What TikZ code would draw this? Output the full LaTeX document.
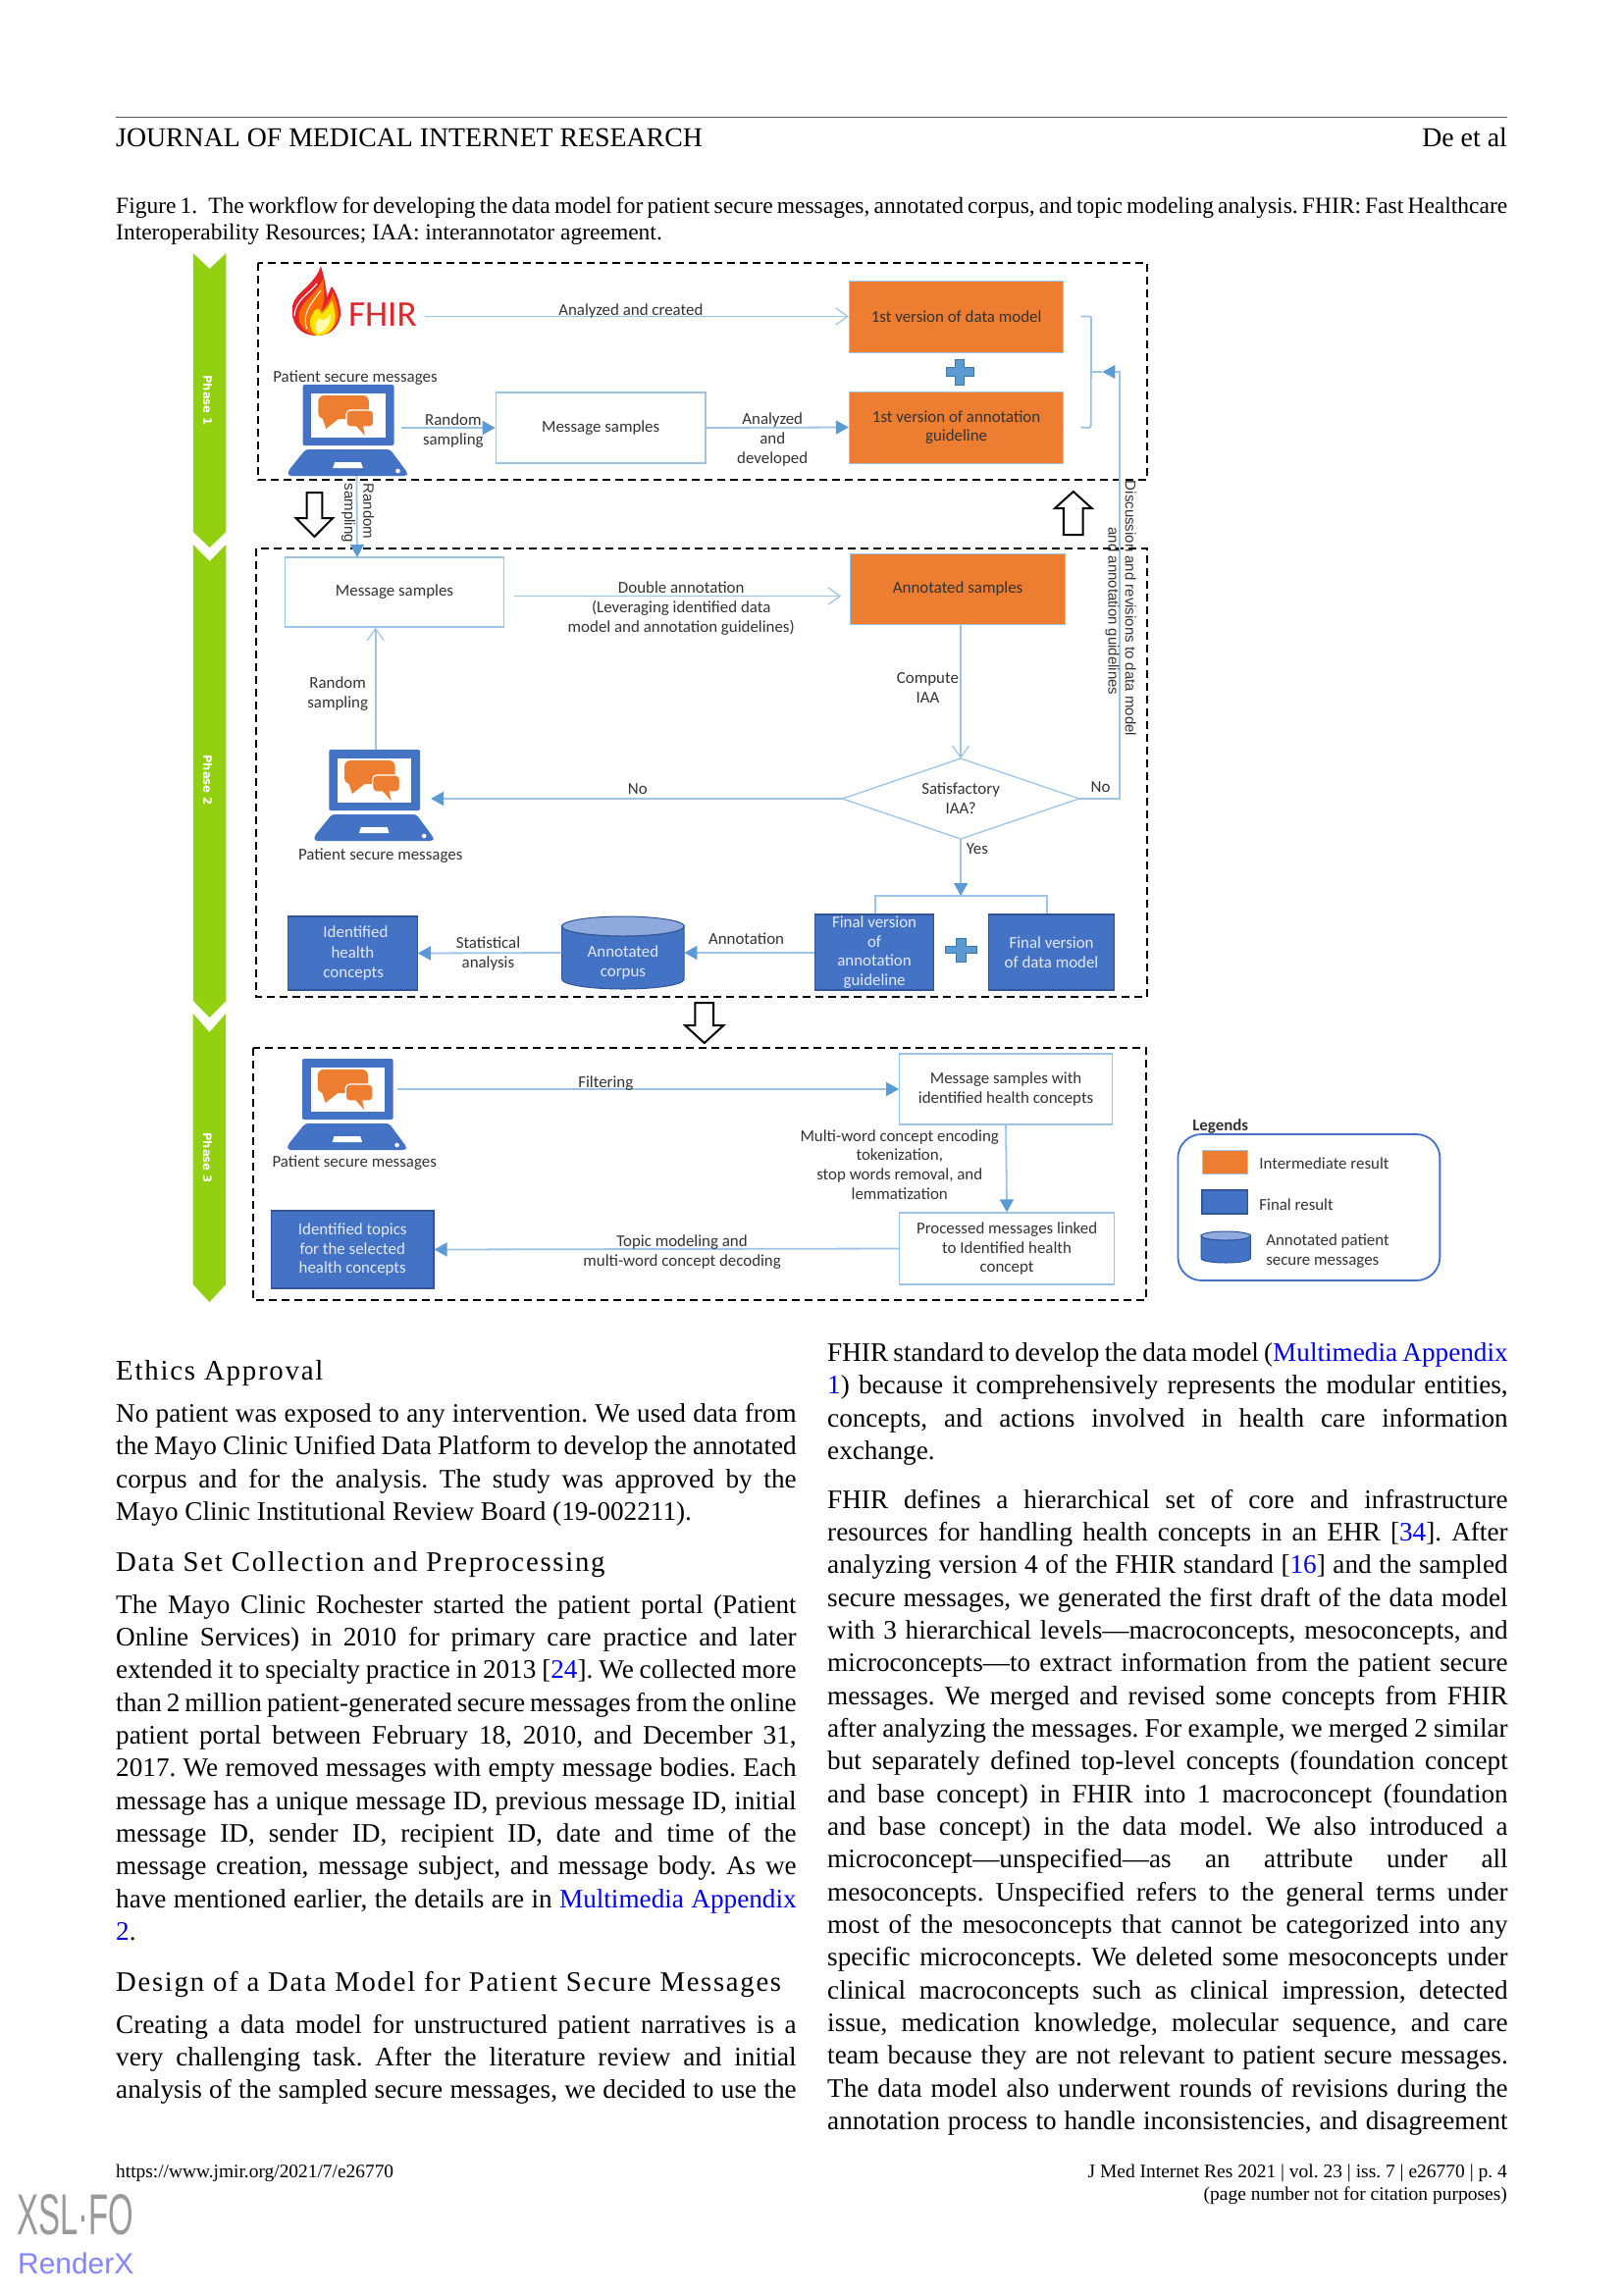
\documentclass[tikz,border=0pt]{standalone}
\usepackage{fontspec}
\usepackage{graphicx}
\setmainfont{Liberation Serif}
\newfontfamily\carl{Carlito}
\newfontfamily\hsans{Liberation Sans}
\newfontfamily\djb{DejaVu Sans}
\newfontfamily\headf[LetterSpace=6]{Liberation Serif}
\usetikzlibrary{arrows.meta,calc}
\definecolor{grn}{HTML}{92D010}
\definecolor{org}{HTML}{ED7D31}
\definecolor{blu}{HTML}{4472C4}
\definecolor{bluD}{HTML}{2F5597}
\definecolor{ltb}{HTML}{9DC3E6}
\definecolor{medb}{HTML}{5B9BD5}
\definecolor{lnk}{HTML}{0000EE}
\definecolor{tx}{HTML}{333333}
\definecolor{fred}{HTML}{E0262C}
\newlength\colw
\newcommand\jl[1]{\hbox to \colw{#1}}
\newcommand\jn[1]{\hbox{#1}}
\newcommand\lk[1]{\textcolor{lnk}{#1}}
\def\xf{1}
\frenchspacing
% block of text: name, x, first baseline, width, lines
\newcommand\txtblock[5]{\node[body,anchor=base west] (#1) at (#2,#3) {\colw=#4pt\vtop{\hsize=\colw\baselineskip=33.35pt\lineskiplimit=-20pt #5}};}
% box: name,x1,y1,x2,y2,style,text
\newcommand\bx[7]{%
  \pgfmathsetmacro\bxw{(#4-#2)*\xf}\pgfmathsetmacro\bxh{#5-#3}%
  \node[#6,minimum width=\bxw pt,minimum height=\bxh pt] (#1) at ({(#2+#4)/2},{(#3+#5)/2}) {#7};}
% laptop: name, x, y of screen's top left
\newcommand\laptop[3]{%
  \node[minimum width=93pt,minimum height=93pt,inner sep=0pt] (#1) at (#2+47,#3+46.5) {};
  \begin{scope}[shift={(#2,#3)}]
    \fill[blu,rounded corners=2pt] (0,0) rectangle (94,62);
    \fill[white] (9,9) rectangle (85,54);
    \fill[org,rounded corners=6pt] (16,11) rectangle (68,35);
    \fill[org] (20,33) -- (24,45) -- (38,34) -- cycle;
    \fill[org,draw=white,line width=1.2pt,rounded corners=4pt] (45,26) rectangle (73,43);
    \fill[org] (55,42) -- (64,52) -- (62,42) -- cycle;
    \fill[blu,rounded corners=3pt] (3,66) -- (90,66) -- (108,90) -- (107,93) -- (-15,93) -- (-15,88) -- cycle;
    \fill[white] (33,79) -- (60,79) -- (62,85) -- (31,85) -- cycle;
    \fill[white] (98,88) circle (2.3pt);
  \end{scope}}
% cylinder: name, x1,y1,x2,y2, ellipse half height, text
\newcommand\cyl[7]{%
  \bx{#1}{#2}{#3}{#4}{#5}{inner sep=0pt,align=center}{}
  \pgfmathsetmacro\cxr{(#4-#2)/2*\xf}\pgfmathsetmacro\cxc{(#2+#4)/2}%
  \fill[blu,draw=bluD,line width=1pt] (#2,#3+#6) arc[start angle=180,end angle=360,x radius=\cxr pt,y radius=#6 pt] -- (#4,#5-#6) arc[start angle=0,end angle=-180,x radius=\cxr pt,y radius=#6 pt] -- cycle;
  \fill[blu!60!white,draw=bluD,line width=1pt] (\cxc,#3+#6) ellipse[x radius=\cxr pt,y radius=#6 pt];
  \node[lblw] at (\cxc,{(#3+#5)/2+#6}) {#7};}
% plus: name, centre, half width, half height
\newcommand\plus[5]{%
  \node[inner sep=0pt,minimum width=#4*2pt,minimum height=#5*2pt] (#1) at (#2,#3) {};
  \begin{scope}[shift={(#2,#3)}]
   \filldraw[fill=medb,draw=medb!75!black,line width=.8pt] (-#4*.32,-#5) -- (#4*.32,-#5) -- (#4*.32,-#5*.32) -- (#4,-#5*.32) -- (#4,#5*.32) -- (#4*.32,#5*.32) -- (#4*.32,#5) -- (-#4*.32,#5) -- (-#4*.32,#5*.32) -- (-#4,#5*.32) -- (-#4,-#5*.32) -- (-#4*.32,-#5*.32) -- cycle;
  \end{scope}}
% hollow arrow: tip x, shaft half w, head half w, start y, head-base y, tip y
\newcommand\hollow[6]{%
  \filldraw[fill=white,draw=black,line width=2pt,line join=miter] (#1-#2,#4) -- (#1+#2,#4) -- (#1+#2,#5) -- (#1+#3,#5) -- (#1,#6) -- (#1-#3,#5) -- (#1-#2,#5) -- cycle;}
% green band: y corner top, notch, side end, tip
\newcommand\band[4]{\fill[grn] (197,#1) -- (214,#2) -- (231,#1) -- (231,#3) -- (214,#4) -- (197,#3) -- cycle;}
\tikzset{
  x=1pt,y=-1pt,
  body/.style={inner sep=0pt,font=\fontsize{27.2}{33.3}\selectfont},
  lbl/.style={inner sep=0pt,align=center,text=tx,font=\carl\fontsize{16.9}{19.7}\selectfont},
  lblw/.style={lbl,text=white!85!blu},
  orgbox/.style={fill=org,draw=ltb,line width=1pt,lbl},
  whbox/.style={fill=white,draw=ltb,line width=1.3pt,lbl},
  blubox/.style={fill=blu,draw=bluD,line width=1.2pt,lblw},
  dashbox/.style={draw=black,line width=2pt,dash pattern=on 8pt off 5pt},
  conn/.style={draw=ltb,line width=1.8pt},
  opena/.style={conn,-{Straight Barb[length=12pt,width=17pt,line width=1.2pt]}},
  filla/.style={conn,-{Triangle[length=13pt,width=14pt,color=medb,fill=medb]}},
  phase/.style={inner sep=0pt,text=white,rotate=-90,font=\djb\bfseries\fontsize{11.6}{13}\selectfont},
  rot/.style={lbl,rotate=-90,font=\hsans\fontsize{15}{17}\selectfont},
}
\begin{document}
\begin{tikzpicture}
\useasboundingbox (0,0) rectangle (1654,2339);
\fill[white] (0,0) rectangle (1654,2339);
% ---- page header
\draw[black!65,line width=1pt] (118,119.5) -- (1536,119.5);
\node[inner sep=0pt,anchor=base west,font=\fontsize{27.8}{33}\selectfont] (hdl) at (118,149.5) {JOURNAL OF MEDICAL INTERNET RESEARCH};
\node[inner sep=0pt,anchor=base east,font=\fontsize{27.8}{33}\selectfont] (hdr) at (1536,149.5) {De et al};
\node[inner sep=0pt,anchor=base west,font=\fontsize{23.5}{27.5}\selectfont] (cap) at (118,217) {\colw=1418pt\vtop{\hsize=\colw\baselineskip=27.5pt
 \jl{Figure 1.\kern 11pt The workflow for developing the data model for patient secure messages, annotated corpus, and topic modeling analysis. FHIR: Fast Healthcare}
 \jn{Interoperability Resources; IAA: interannotator agreement.}}};
% ---- phases 1 and 2
\begin{scope}[x=0.989pt,shift={(1.98,0)}]
\def\xf{0.989}
\band{258}{274}{542}{558}
\band{555}{572}{1020}{1037}
\node[phase] (p1) at (212,408) {Phase 1};
\node[phase] (p2) at (212,795) {Phase 2};
\draw[dashbox] (264,268) rectangle (1180,489);
\draw[dashbox] (262,559) rectangle (1180,1016);
\end{scope}
% ---- FHIR logo
\fill[fred] (323,342) .. controls (305,342) and (296,330) .. (298,312) .. controls (300,298) and (320,292) .. (327,271) .. controls (331,285) and (333,296) .. (333,303) .. controls (336,297) and (337,293) .. (338,292) .. controls (345,300) and (348,318) .. (347,322) .. controls (344,336) and (335,342) .. (323,342) -- cycle;
\draw[white,line width=1.1pt] (300,322) .. controls (301,305) and (315,300) .. (323,289);
\fill[orange!85!red] (323,342) .. controls (311,340) and (302,330) .. (305,318) .. controls (309,305) and (325,298) .. (329,284) .. controls (332,298) and (330,310) .. (327,318) .. controls (333,312) and (337,306) .. (339,298) .. controls (345,312) and (346,322) .. (344,326) .. controls (340,337) and (332,342) .. (323,342) -- cycle;
\draw[white,line width=1pt] (313,335) .. controls (306,320) and (320,306) .. (327,296);
\fill[yellow!85!orange] (323,342) .. controls (315,338) and (314,326) .. (319,319) .. controls (322,314) and (326,312) .. (327,320) .. controls (330,318) and (336,312) .. (338,306) .. controls (342,316) and (343,326) .. (339,333) .. controls (335,340) and (330,342) .. (323,342) -- cycle;
\fill[yellow!35!white] (324,340) .. controls (320,334) and (322,326) .. (326,324) .. controls (328,328) and (333,326) .. (337,320) .. controls (338,330) and (332,338) .. (324,340) -- cycle;
\node[inner sep=0pt,text=fred,font=\carl\fontsize{37}{40}\selectfont,anchor=west] (fhir) at (355,321) {FHIR};
\begin{scope}[x=0.989pt,shift={(1.98,0)}]
\def\xf{0.989}
% ---- phase 1
\bx{dm}{873}{286}{1094}{359}{orgbox}{1st version of data model}
\bx{ag}{873}{399}{1094}{472}{orgbox}{1st version of annotation\\guideline}
\plus{pl1}{987}{379}{14}{13}
\laptop{lapA}{310}{392}
\bx{ms1}{509}{400}{725}{472}{whbox}{\raisebox{-2pt}{Message samples}}
\node[lbl] (tp1) at (364,385.5) {Patient secure messages};
\draw[opena] (fhir.east |- dm.west) ++(8,0) -- (dm.west);
\node[lbl] (la1) at (648,317) {Analyzed and created};
\draw[filla] (lapA.east |- ms1.west) ++(7,0) -- (ms1.west);
\node[lbl] (la2) at (465,439) {Random\\sampling};
\draw[filla] (ms1.east) -- (ag.west);
\node[lbl] (la3) at (794,448) {Analyzed\\and\\developed};
% brace and return line
\coordinate (brt) at ($(dm.east)+(17,0)$);
\coordinate (brb) at ($(ag.east)+(17,0)$);
\coordinate (brm) at (1122,379);
\draw[conn,rounded corners=2pt] (brt) -- ++(11,0) -- (1122,436) -- (brb);
\draw[conn] (brm) -- ++(12,0);
% ---- phase 1 to 2
\hollow{322}{8}{19}{502}{528}{547}
\hollow{1104}{10}{19}{545}{518}{501}
% ---- phase 2
\bx{ms2}{292}{568}{517}{639}{whbox}{Message samples}
\bx{an}{874}{564}{1096}{636}{orgbox}{Annotated samples}
\laptop{lapB}{337}{764}
\node[lbl] (tp2) at (390,872) {Patient secure messages};
\coordinate (dn) at (988,773); \coordinate (ds) at (988,855); \coordinate (dw) at (866,814); \coordinate (de) at (1110,814);
\draw[ltb,line width=1.3pt,fill=white] (dn) -- (de) -- (ds) -- (dw) -- cycle;
\node[lbl] (dia) at (988,814) {Satisfactory\\IAA?};
\draw[filla] (lapA.south -| ms2.north) ++(-39,0) -- (366,568);
\node[rot] (rs1) at (378,521) {Random};
\node[rot] (rs2) at (357,523) {sampling};
\draw[opena] (ms2.east) ++(10,4) -- ++(337,0);
\node[lbl] (la4) at (700,620) {Double annotation\\(Leveraging identified data\\model and annotation guidelines)};
\draw[opena] (an.south -| dn) -- (dn);
\node[lbl] (la5) at (954,701) {Compute\\IAA};
\draw[filla] (dw) -- (442,814);
\node[lbl] (la6) at (655,804) {No};
\coordinate (rettip) at (1134,379);
\draw[conn] (de) -- (1152,814) -- (1152,379) -- (1146,379);
\fill[medb] (rettip) -- (1147,372) -- (1147,386) -- cycle;
\node[lbl] (la7) at (1132,802) {No};
\node[lbl] (la8) at (1005,865) {Yes};
\node[rot] (dsc1) at (1163,620) {Discussion and revisions to data model};
\node[rot] (dsc2) at (1144,623) {and annotation guidelines};
\bx{fa}{838}{932}{960}{1009}{blubox}{Final version\\of\\annotation\\guideline}
\bx{fd}{1017}{932}{1146}{1009}{blubox}{Final version\\of data model}
\plus{pl2}{988}{968}{16}{12}
\draw[filla] (ds) -- (988,913);
\draw[conn] (fa.north -| 900,0) -- (900,913) -- (1077,913) -- (fd.north -| 1077,0);
\cyl{cor}{577}{934}{703}{1008}{10}{Annotated\\corpus}
\bx{ihc}{295}{934}{428}{1009}{blubox}{\raisebox{-1.5pt}{\parbox{60pt}{\centering\baselineskip=20.3pt Identified\\health\\concepts}}}
\draw[filla] (fa.west) ++(0,0.5) -- (cor.east);
\node[lbl] (la9) at (767,957) {Annotation};
\draw[filla] (cor.west) -- (ihc.east);
\node[lbl] (la10) at (501,972) {Statistical\\analysis};
\draw[opena] (lapB.north -| 385,0) -- (ms2.south -| 385,0);
\node[lbl] (la11) at (346,707) {Random\\sampling};
\end{scope}
% ---- phase 3 and legend
\begin{scope}[x=0.985pt,shift={(2.7,0)}]
\def\xf{0.985}
\band{1033}{1052}{1309}{1327}
\node[phase] (p3) at (212,1180) {Phase 3};
\draw[dashbox] (259,1068) rectangle (1183,1325);
\hollow{726}{9.5}{20}{1022}{1045}{1063}
\laptop{lapC}{310}{1079}
\node[lbl] (tp3b) at (364,1185.5) {Patient secure messages};
\bx{msh}{928}{1074}{1148}{1146}{whbox}{Message samples with\\identified health concepts}
\bx{pm}{928}{1236}{1150}{1309}{whbox}{Processed messages linked\\to Identified health\\concept}
\bx{itp}{278}{1234}{446}{1313}{blubox}{Identified topics\\for the selected\\health concepts}
\draw[filla] (lapC.east |- msh.west) ++(4,0) -- (msh.west);
\node[lbl] (la12) at (624,1104) {Filtering};
\draw[filla] (msh.south) -- (pm.north);
\node[lbl] (la13) at (928,1187) {Multi-word concept encoding\\tokenization,\\stop words removal, and\\lemmatization};
\draw[filla] (pm.west) -- (itp.east);
\node[lbl] (la14) at (703,1276) {Topic modeling and\\multi-word concept decoding};
% ---- legend
\node[lbl,font=\carl\bfseries\fontsize{16.9}{19}\selectfont] (leg) at (1260,1148) {Legends};
\draw[blu,line width=1.8pt,rounded corners=24pt] (1216,1156) rectangle (1487,1305);
\bx{s1}{1241}{1172}{1288}{1196}{orgbox}{}
\bx{s2}{1241}{1213}{1288}{1237}{blubox}{}
\cyl{s3}{1240}{1255}{1291}{1287}{4.5}{}
\node[lbl,anchor=west] (t1) at (1300,1186) {Intermediate result};
\node[lbl,anchor=west] (t2) at (1300,1228) {Final result};
\node[lbl,anchor=west,align=left] (t3) at (1307,1275) {Annotated patient\\secure messages};
\end{scope}
% ---- body text
\node[inner sep=0pt,anchor=base west,font=\headf\fontsize{28.9}{33}\selectfont] (h1) at (118,1406.5) {Ethics Approval};
\txtblock{a1}{118}{1449.5}{693.5}{
\jl{No patient was exposed to any intervention. We used data from}
\jl{the Mayo Clinic Unified Data Platform to develop the annotated}
\jl{corpus and for the analysis. The study was approved by the}
\jn{Mayo Clinic Institutional Review Board (19-002211).}}
\node[inner sep=0pt,anchor=base west,font=\headf\fontsize{28.8}{33}\selectfont] (h2) at (118,1601) {Data Set Collection and Preprocessing};
\txtblock{a2}{118}{1644}{693.5}{
\jl{The Mayo Clinic Rochester started the patient portal (Patient}
\jl{Online Services) in 2010 for primary care practice and later}
\jl{extended it to specialty practice in 2013 [\lk{24}]. We collected more}
\jl{than 2 million patient-generated secure messages from the online}
\jl{patient portal between February 18, 2010, and December 31,}
\jl{2017. We removed messages with empty message bodies. Each}
\jl{message has a unique message ID, previous message ID, initial}
\jl{message ID, sender ID, recipient ID, date and time of the}
\jl{message creation, message subject, and message body. As we}
\jl{have mentioned earlier, the details are in \lk{Multimedia Appendix}}
\jn{\lk{2}.}}
\node[inner sep=0pt,anchor=base west,font=\headf\fontsize{28.7}{33}\selectfont] (h3) at (118,2029) {Design of a Data Model for Patient Secure Messages};
\txtblock{a3}{118}{2072}{693.5}{
\jl{Creating a data model for unstructured patient narratives is a}
\jl{very challenging task. After the literature review and initial}
\jl{analysis of the sampled secure messages, we decided to use the}}
\txtblock{b1}{843}{1387.5}{693.5}{
\jl{FHIR standard to develop the data model (\lk{Multimedia Appendix}}
\jl{\lk{1}) because it comprehensively represents the modular entities,}
\jl{concepts, and actions involved in health care information}
\jn{exchange.}}
\txtblock{b2}{843}{1537}{693.5}{
\jl{FHIR defines a hierarchical set of core and infrastructure}
\jl{resources for handling health concepts in an EHR [\lk{34}]. After}
\jl{analyzing version 4 of the FHIR standard [\lk{16}] and the sampled}
\jl{secure messages, we generated the first draft of the data model}
\jl{with 3 hierarchical levels---macroconcepts, mesoconcepts, and}
\jl{microconcepts---to extract information from the patient secure}
\jl{messages. We merged and revised some concepts from FHIR}
\jl{after analyzing the messages. For example, we merged 2 similar}
\jl{but separately defined top-level concepts (foundation concept}
\jl{and base concept) in FHIR into 1 macroconcept (foundation}
\jl{and base concept) in the data model. We also introduced a}
\jl{microconcept---unspecified---as an attribute under all}
\jl{mesoconcepts. Unspecified refers to the general terms under}
\jl{most of the mesoconcepts that cannot be categorized into any}
\jl{specific microconcepts. We deleted some mesoconcepts under}
\jl{clinical macroconcepts such as clinical impression, detected}
\jl{issue, medication knowledge, molecular sequence, and care}
\jl{team because they are not relevant to patient secure messages.}
\jl{The data model also underwent rounds of revisions during the}
\jl{annotation process to handle inconsistencies, and disagreement}}
% ---- footer
\node[inner sep=0pt,anchor=base west,font=\fontsize{19.4}{24}\selectfont] (f1) at (118,2219) {https://www.jmir.org/2021/7/e26770};
\node[inner sep=0pt,anchor=base east,font=\fontsize{19.5}{24}\selectfont] (f2) at (1536,2219) {J Med Internet Res 2021 | vol. 23 | iss. 7 | e26770 | p. 4};
\node[inner sep=0pt,anchor=base east,font=\fontsize{19.5}{24}\selectfont] (f3) at (1536,2242) {(page number not for citation purposes)};
\node[inner sep=0pt,anchor=south west,text=black!40] (xsl) at (17,2278) {\resizebox{119pt}{41pt}{\hsans XSL\textperiodcentered FO}};
\node[inner sep=0pt,anchor=base west,text=blue!48!white] (rx) at (18,2317) {\resizebox{118pt}{!}{\hsans RenderX}};
\end{tikzpicture}
\end{document}
